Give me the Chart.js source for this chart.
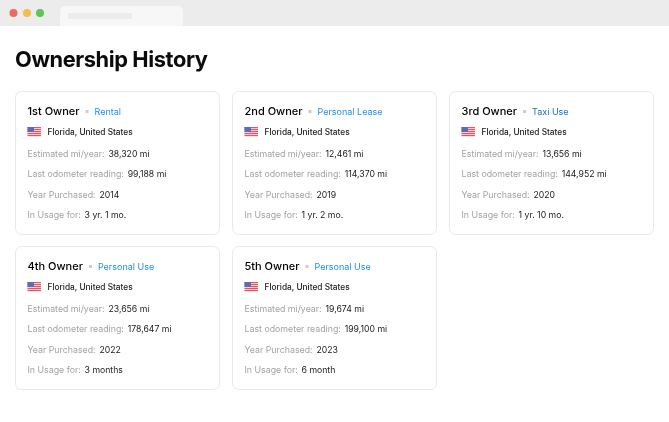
<!DOCTYPE html>
<html>
<head>
<meta charset="utf-8">
<title>Ownership History</title>
<style>
  html, body { margin: 0; padding: 0; background: #fff; }
  #wrap { width: 669px; height: 422px; overflow: hidden; }
</style>
<script src="https://cdn.jsdelivr.net/npm/chart.js@4/dist/chart.umd.min.js"></script>
</head>
<body>
<div id="wrap"><canvas id="ownersChart"></canvas></div>
<script>
const pageTitle = "Ownership History";
const owners = ["1st Owner", "2nd Owner", "3rd Owner", "4th Owner", "5th Owner"];
const usages = ["Rental", "Personal Lease", "Taxi Use", "Personal Use", "Personal Use"];
const places = ["Florida, United States", "Florida, United States", "Florida, United States", "Florida, United States", "Florida, United States"];
const milesPerYear = [38320, 12461, 13656, 23656, 19674];
const odometer = [99188, 114370, 144952, 178647, 199100];
const yearPurchased = [2014, 2019, 2020, 2022, 2023];
const inUsage = ["3 yr. 1 mo.", "1 yr. 2 mo.", "1 yr. 10 mo.", "3 months", "6 month"];
const rowLabels = ["Estimated mi/year:", "Last odometer reading:", "Year Purchased:", "In Usage for:"];

const FONT = 'Inter, "Noto Sans", sans-serif';
const miles = v => v.toLocaleString('en-US') + ' mi';

function text(ctx, str, x, y, font, color, spacing) {
  ctx.font = font;
  ctx.fillStyle = color;
  ctx.letterSpacing = spacing || '0px';
  ctx.fillText(str, x, y);
  return ctx.measureText(str).width;
}

function roundBox(ctx, x, y, w, h, r) {
  ctx.beginPath();
  ctx.roundRect(x, y, w, h, r);
}

// the browser window round the page
function drawChrome(ctx) {
  ctx.fillStyle = '#ececec';
  ctx.fillRect(0, 0, 669, 26);
  ctx.fillStyle = '#f7f7f7';
  roundBox(ctx, 60, 6, 123, 20, [5, 5, 0, 0]);
  ctx.fill();
  ctx.fillStyle = '#ececec';
  ctx.fillRect(68, 13, 64, 6);
  [[13.5, '#ee6a5f'], [27, '#f5bd4f'], [40, '#61c454']].forEach(d => {
    ctx.fillStyle = d[1];
    ctx.beginPath();
    ctx.arc(d[0], 13, 4, 0, Math.PI * 2);
    ctx.fill();
  });
}

function drawFlag(ctx, x, y) {
  ctx.fillStyle = '#f8eef0';
  ctx.fillRect(x, y, 13.5, 9);
  ctx.fillStyle = '#e9525e';
  for (let i = 0; i < 5; i++) ctx.fillRect(x, y + i * 2, 13.5, 1.2);
  ctx.fillStyle = '#5f6ab4';
  ctx.fillRect(x, y, 6.5, 5);
}

function drawCard(ctx, i, x, y) {
  ctx.fillStyle = '#fff';
  ctx.strokeStyle = '#e9e9ec';
  ctx.lineWidth = 1;
  roundBox(ctx, x + 0.5, y + 0.5, 204, 143, 6);
  ctx.fill();
  ctx.stroke();

  const left = x + 12.5;
  ctx.textBaseline = 'alphabetic';
  ctx.textAlign = 'left';
  const w = text(ctx, owners[i], left, y + 24, '500 11px ' + FONT, '#000');
  ctx.fillStyle = '#c9cdd2';
  ctx.fillRect(left + w + 6, y + 19, 3, 3);
  text(ctx, usages[i], left + w + 15, y + 24, '400 9px ' + FONT, i === 2 ? '#1a6fc0' : '#1f8fe6');

  drawFlag(ctx, left, y + 36);
  text(ctx, places[i], left + 20, y + 43.5, '500 8.3px ' + FONT, '#222');

  const values = [miles(milesPerYear[i]), miles(odometer[i]), String(yearPurchased[i]), inUsage[i]];
  rowLabels.forEach((label, r) => {
    const base = y + 66 + r * 20.4;
    const lw = text(ctx, label, left, base, '400 8.8px ' + FONT, '#a0a2a6');
    text(ctx, values[r], left + lw + 3.8, base, '400 8.7px ' + FONT, '#1a1a1a');
  });
}

const cardsPlugin = {
  id: 'cards',
  afterDatasetsDraw(chart) {
    const ctx = chart.ctx;
    ctx.save();
    drawChrome(ctx);
    ctx.textBaseline = 'alphabetic';
    text(ctx, pageTitle, 15, 67, '700 21.8px ' + FONT, '#0b0b0b', '-0.4px');
    chart.getDatasetMeta(0).data.forEach((pt, i) => drawCard(ctx, i, pt.x, pt.y));
    ctx.restore();
  }
};

const OWNERS = document.getElementById('ownersChart');

let ownersChart = new Chart(OWNERS, {
  type: 'scatter',
  data: {
    labels: owners,
    datasets: [{
      label: pageTitle,
      // one card per owner, three to a row
      data: owners.map((o, i) => ({ x: i % 3, y: Math.floor(i / 3) })),
      pointRadius: 0
    }]
  },
  options: {
    responsive: true,
    maintainAspectRatio: false,
    animation: false,
    events: [],
    layout: { padding: 0 },
    plugins: { legend: { display: false }, tooltip: { enabled: false } },
    scales: {
      x: { display: false, min: -15 / 217, max: 654 / 217 },
      y: { display: false, reverse: true, min: -91 / 155, max: 331 / 155 }
    }
  },
  plugins: [cardsPlugin]
});
</script>
</body>
</html>
